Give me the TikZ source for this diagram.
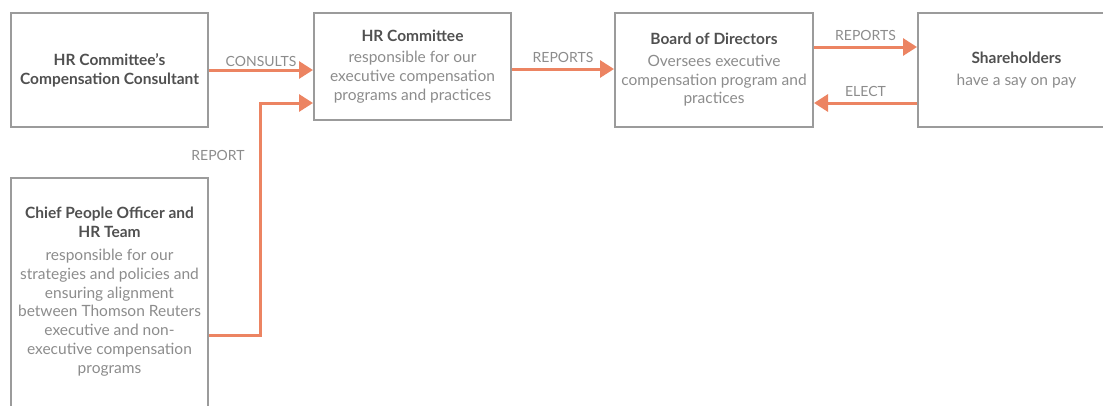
\documentclass[tikz,border=0pt]{standalone}
\usepackage{fontspec}
\setmainfont{Lato}
\usetikzlibrary{arrows.meta}
\definecolor{tro}{HTML}{EC8462}
\definecolor{frame}{HTML}{9B9B9B}
\definecolor{head}{HTML}{505050}
\definecolor{body}{HTML}{8C8C8C}
\tikzset{
	box/.style={draw=frame, line width=2pt, minimum width=197pt, minimum height=114pt,
		align=center, inner sep=0pt, text=body, font=\fontsize{15.5}{18.7}\selectfont},
	con/.style={draw=tro, line width=3pt, -{Triangle[length=14pt,width=17pt]}},
	lab/.style={text=body, inner sep=2pt, font=\fontsize{14}{16}\selectfont},
}
\newcommand{\ttl}[1]{{\color{head}\bfseries #1}}

\begin{document}
\begin{tikzpicture}[x=1pt,y=-1pt]
	\useasboundingbox (0,0) rectangle (1103,405);
	\clip (0,0) rectangle (1103,405);

	\node[box] (cons) at (109.5,70) {\ttl{HR Committee's}\\\ttl{Compensation Consultant}};
	\node[box, minimum height=107pt] (hrc) at (412.5,66.5)
		{\ttl{HR Committee}\\[3pt]responsible for our\\executive compensation\\programs and practices};
	\node[box, minimum width=198pt] (board) at (714,70)
		{\ttl{Board of Directors}\\[3pt]Oversees executive\\compensation program and\\practices};
	\node[box] (share) at (1016.5,70) {\ttl{Shareholders}\\[3pt]have a say on pay};
	\node[box, minimum height=240pt] (cpo) at (109.5,298)
		{\ttl{Chief People Officer and}\\\ttl{HR Team}\\[5pt]responsible for our\\strategies and policies and\\ensuring alignment\\between Thomson Reuters\\executive and non-\\executive compensation\\programs\\[-2.7pt]\mbox{}};

	\coordinate (bend) at (260,103);

	\draw[con] (cons.east) -- (cons.east -| hrc.west) node[lab, midway, above] {CONSULTS};
	\draw[con] ([yshift=-37pt]cpo.east) -| (bend) -- (bend -| hrc.west);
	\node[lab] (rep) at (218,155) {REPORT};
	\draw[con] ([yshift=-2.5pt]hrc.east) -- ([yshift=-2.5pt]hrc.east -| board.west)
		node[lab, midway, above=3pt] {REPORTS};
	\draw[con] ([yshift=23pt]board.east) -- ([yshift=23pt]board.east -| share.west)
		node[lab, midway, above=3pt] {REPORTS};
	\draw[con] ([yshift=-33pt]share.west) -- ([yshift=-33pt]share.west -| board.east)
		node[lab, midway, above=3pt] {ELECT};
\end{tikzpicture}
\end{document}
